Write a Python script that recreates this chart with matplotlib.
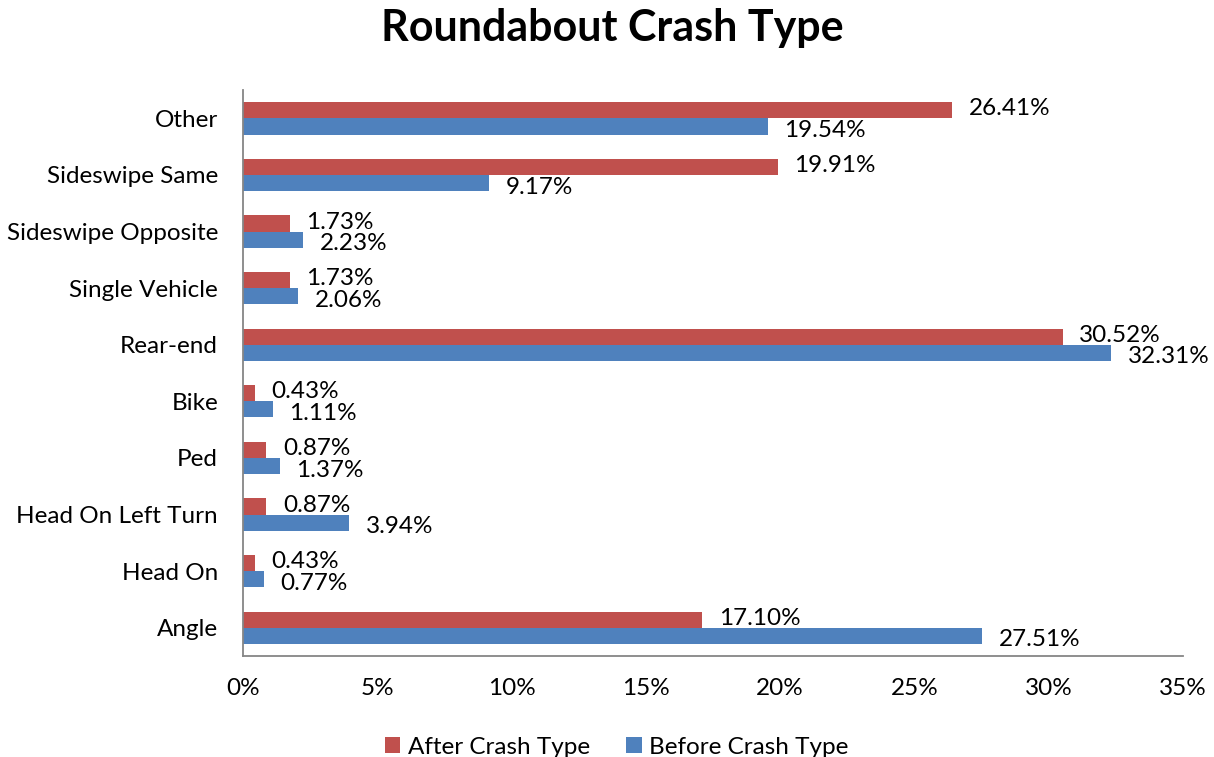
import numpy as np
import matplotlib.pyplot as plt

categories = ['Angle', 'Head On', 'Head On Left Turn', 'Ped', 'Bike', 'Rear-end',
              'Single Vehicle', 'Sideswipe Opposite', 'Sideswipe Same', 'Other']
after = [17.10, 0.43, 0.87, 0.87, 0.43, 30.52, 1.73, 1.73, 19.91, 26.41]
before = [27.51, 0.77, 3.94, 1.37, 1.11, 32.31, 2.06, 2.23, 9.17, 19.54]
xticks = [0, 5, 10, 15, 20, 25, 30, 35]

red = '#C0504D'
blue = '#4F81BD'
plt.rcParams['font.family'] = ['Lato', 'DejaVu Sans']
fs = 17.5

fig = plt.figure(figsize=(12.14, 7.57), dpi=100)
ax = fig.add_axes([0.2002, 0.1334, 0.7743, 0.7476])

y = np.arange(len(categories))
h = 0.285
bars_a = ax.barh(y + h / 2, after, height=h, color=red, label='After Crash Type')
bars_b = ax.barh(y - h / 2, before, height=h, color=blue, label='Before Crash Type')

# labels pushed slightly apart like Excel does
for bars, vals, dy in [(bars_a, after, 1), (bars_b, before, -3)]:
    for b, v in zip(bars, vals):
        ax.annotate(f'{v:.2f}%', (v, b.get_y() + b.get_height() / 2),
                    xytext=(12, dy), textcoords='offset points',
                    va='center', ha='left', fontsize=fs)

ax.set_xlim(0, 35)
ax.set_ylim(-0.5, 9.5)
ax.set_xticks(xticks)
ax.set_xticklabels([f'{t}%' for t in xticks], fontsize=fs)
ax.set_yticks(y)
ax.set_yticklabels(categories, fontsize=fs)
ax.tick_params(axis='y', length=0, pad=18)
ax.tick_params(axis='x', length=0, pad=16)

for s in ['top', 'right']:
    ax.spines[s].set_visible(False)
for s in ['left', 'bottom']:
    ax.spines[s].set_color('#868686')
    ax.spines[s].set_linewidth(1.3)

fig.suptitle('Roundabout Crash Type', fontsize=31, fontweight='bold', x=0.504, y=0.99)

fig.legend(loc='lower center', bbox_to_anchor=(0.508, -0.03), ncol=2, frameon=False,
           fontsize=fs, handlelength=0.65, handleheight=0.65, handletextpad=0.3,
           columnspacing=1.5)

fig.savefig('out.png', dpi=100)
